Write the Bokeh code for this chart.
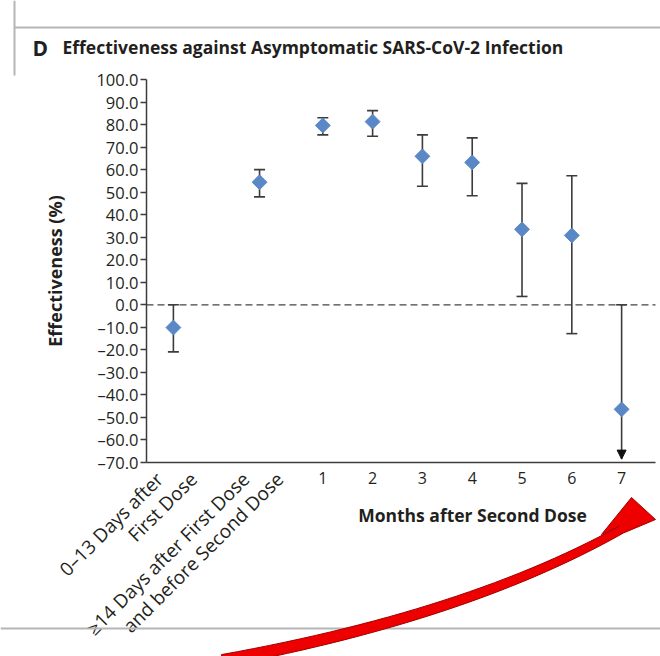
import math
from bokeh.plotting import figure
from bokeh.models import (ColumnDataSource, Whisker, TeeHead, NormalHead, FixedTicker, Range1d)
from bokeh.core.properties import value
from bokeh.embed import file_html
from bokeh.resources import INLINE

# ---------------- data ----------------
cat_lines = [["0–13 Days after", "First Dose"],
             ["≥14 Days after First Dose", "and before Second Dose"]]
cat_slot = [-2.0, -0.27]
months = [1, 2, 3, 4, 5, 6, 7]
x_slot = cat_slot + months
effectiveness = [-10.1, 54.4, 79.6, 81.3, 65.9, 63.2, 33.5, 30.8, -46.4]
upper_ci = [0.0, 60.0, 83.0, 86.2, 75.4, 74.1, 53.9, 57.3, 0.0]
lower_ci = [-20.9, 47.9, 75.4, 74.8, 52.6, 48.4, 3.7, -12.8, None]  # None = beyond axis
y_ticks = list(range(-70, 101, 10))

title_letter = "D"
title_text = "Effectiveness against Asymptomatic SARS-CoV-2 Infection"
y_label = "Effectiveness (%)"
x_label = "Months after Second Dose"

# ---------------- style / layout ----------------
FONT = "Open Sans"
TXT = "#231f20"
AX = "#3c3c3c"
BLUE = "#5a87c6"

W, H = 660, 656
FL, FT, FR, FB = 146, 79, 652, 462      # plotting-area edges in page px
X0, X1 = -2.54, 7.62                    # x data at FL / FR
X_END = 7.68                            # where the x axis line stops
Y0, Y1 = y_ticks[0], y_ticks[-1]        # y data at FB / FT
PXX = (FR - FL) / (X1 - X0)
PYY = (FB - FT) / (Y1 - Y0)
XS, XE = X0 - FL / PXX, X0 + (W - FL) / PXX
YT, YB = Y1 + FT / PYY, Y1 - (H - FT) / PYY


def dx(px):
    return XS + px / PXX


def dy(py):
    return YT - py / PYY


p = figure(width=W, height=H, output_backend="svg", toolbar_location=None,
           x_range=Range1d(XS, XE), y_range=Range1d(YB, YT),
           min_border=0, min_border_left=0, min_border_right=0,
           min_border_top=0, min_border_bottom=0)
p.outline_line_color = None
p.grid.visible = False
p.background_fill_color = "white"
p.border_fill_color = "white"

# y axis (drawn inside the canvas at x = X0)
ya = p.yaxis[0]
ya.fixed_location = X0
ya.bounds = (Y0, Y1)
ya.ticker = FixedTicker(ticks=y_ticks)
ya.major_label_overrides = {t: f"{t:.1f}".replace("-", "–") for t in y_ticks}
ya.major_tick_out = 6
ya.major_tick_in = 0
ya.minor_tick_out = 0
ya.minor_tick_in = 0
ya.axis_line_color = AX
ya.axis_line_width = 1.5
ya.major_tick_line_color = AX
ya.major_tick_line_width = 1.5
ya.major_label_text_font = FONT
ya.major_label_text_font_size = "16.5px"
ya.major_label_text_color = TXT
ya.major_label_standoff = 2
ya.axis_label = y_label
ya.axis_label_text_font = FONT
ya.axis_label_text_font_size = "18px"
ya.axis_label_text_font_style = "bold"
ya.axis_label_text_color = TXT
ya.axis_label_standoff = 26

# x axis (drawn at y = Y0)
xa = p.xaxis[0]
xa.fixed_location = Y0
xa.bounds = (X0, X_END)
xa.ticker = FixedTicker(ticks=months)
xa.major_tick_out = 0
xa.major_tick_in = 0
xa.minor_tick_out = 0
xa.minor_tick_in = 0
xa.axis_line_color = AX
xa.axis_line_width = 1.5
xa.major_label_text_font = FONT
xa.major_label_text_font_size = "16px"
xa.major_label_text_color = TXT
xa.major_label_standoff = 9

# zero reference line
p.segment(x0=[X0], y0=[0], x1=[X_END], y1=[0], line_color="#444444",
          line_width=1.3, line_dash="7 4")

# error bars
idx_ok = [i for i, v in enumerate(lower_ci) if v is not None]
idx_cut = [i for i, v in enumerate(lower_ci) if v is None]
src_ok = ColumnDataSource(dict(x=[x_slot[i] for i in idx_ok],
                               up=[upper_ci[i] for i in idx_ok],
                               lo=[lower_ci[i] for i in idx_ok]))
p.add_layout(Whisker(source=src_ok, base="x", upper="up", lower="lo", dimension="height",
                     line_color=AX, line_width=1.6,
                     upper_head=TeeHead(size=11, line_color=AX, line_width=1.6),
                     lower_head=TeeHead(size=11, line_color=AX, line_width=1.6)))
src_cut = ColumnDataSource(dict(x=[x_slot[i] for i in idx_cut],
                                up=[upper_ci[i] for i in idx_cut],
                                lo=[Y0 + 1.5 for i in idx_cut]))
p.add_layout(Whisker(source=src_cut, base="x", upper="up", lower="lo", dimension="height",
                     line_color=AX, line_width=1.6,
                     upper_head=TeeHead(size=11, line_color=AX, line_width=1.6),
                     lower_head=NormalHead(size=9, line_color="#111111", fill_color="#111111")))

# points
src_pts = ColumnDataSource(dict(x=x_slot, y=effectiveness))
p.scatter("x", "y", source=src_pts, marker="square", angle=math.pi / 4, size=10.5,
          fill_color=BLUE, line_color=BLUE, line_width=1)


def txt(text, px_, py_, size="15px", bold=False, angle=0.0, align="left", base="alphabetic"):
    p.text(x=[dx(px_)], y=[dy(py_)], text=[text], text_font=value(FONT),
           text_font_size=size, text_color=TXT,
           text_font_style="bold" if bold else "normal",
           angle=angle, text_align=align, text_baseline=base)


# title
txt(title_letter, 32, 47, size="21px", bold=True)
txt(title_text, 62, 46, size="17.5px", bold=True)
# x title for the month block
txt(x_label, 472, 514, size="17.5px", bold=True, align="center")

# rotated category labels (each line ends near the axis)
line_shift = [-12, 22]
for slot, lines in zip(cat_slot, cat_lines):
    cx = FL + (slot - X0) * PXX
    for k, t in enumerate(lines):
        txt(t, cx + line_shift[k] - 11, 466, size="19px", angle=math.pi / 4,
            align="right", base="top")

# panel rules
rules = [(14, 27, 660, 27), (14, 0, 14, 75), (0, 628, 660, 628)]
p.segment(x0=[dx(r[0]) for r in rules], y0=[dy(r[1]) for r in rules],
          x1=[dx(r[2]) for r in rules], y1=[dy(r[3]) for r in rules],
          line_color="#b5b5b5", line_width=2)

# red curved arrow (decoration)
P0, P1, P2 = (222, 660), (467, 615), (621, 529)
n = 30
left_edge, right_edge = [], []
for i in range(n + 1):
    t = i / n
    bx = (1 - t) ** 2 * P0[0] + 2 * (1 - t) * t * P1[0] + t * t * P2[0]
    by = (1 - t) ** 2 * P0[1] + 2 * (1 - t) * t * P1[1] + t * t * P2[1]
    ddx = 2 * (1 - t) * (P1[0] - P0[0]) + 2 * t * (P2[0] - P1[0])
    ddy = 2 * (1 - t) * (P1[1] - P0[1]) + 2 * t * (P2[1] - P1[1])
    L = math.hypot(ddx, ddy)
    nx, ny = -ddy / L, ddx / L
    w = (12 - 4 * t) / 2
    left_edge.append((bx + nx * w, by + ny * w))
    right_edge.append((bx - nx * w, by - ny * w))
head = [(601, 534), (631, 497), (655, 519)]
poly = left_edge + [head[2], head[1], head[0]] + right_edge[::-1]
p.patch(x=[dx(a) for a, _ in poly], y=[dy(b) for _, b in poly],
        fill_color="#ee0000", line_color="#a00000", line_width=1)

open("out.html", "w").write(file_html(p, INLINE))
